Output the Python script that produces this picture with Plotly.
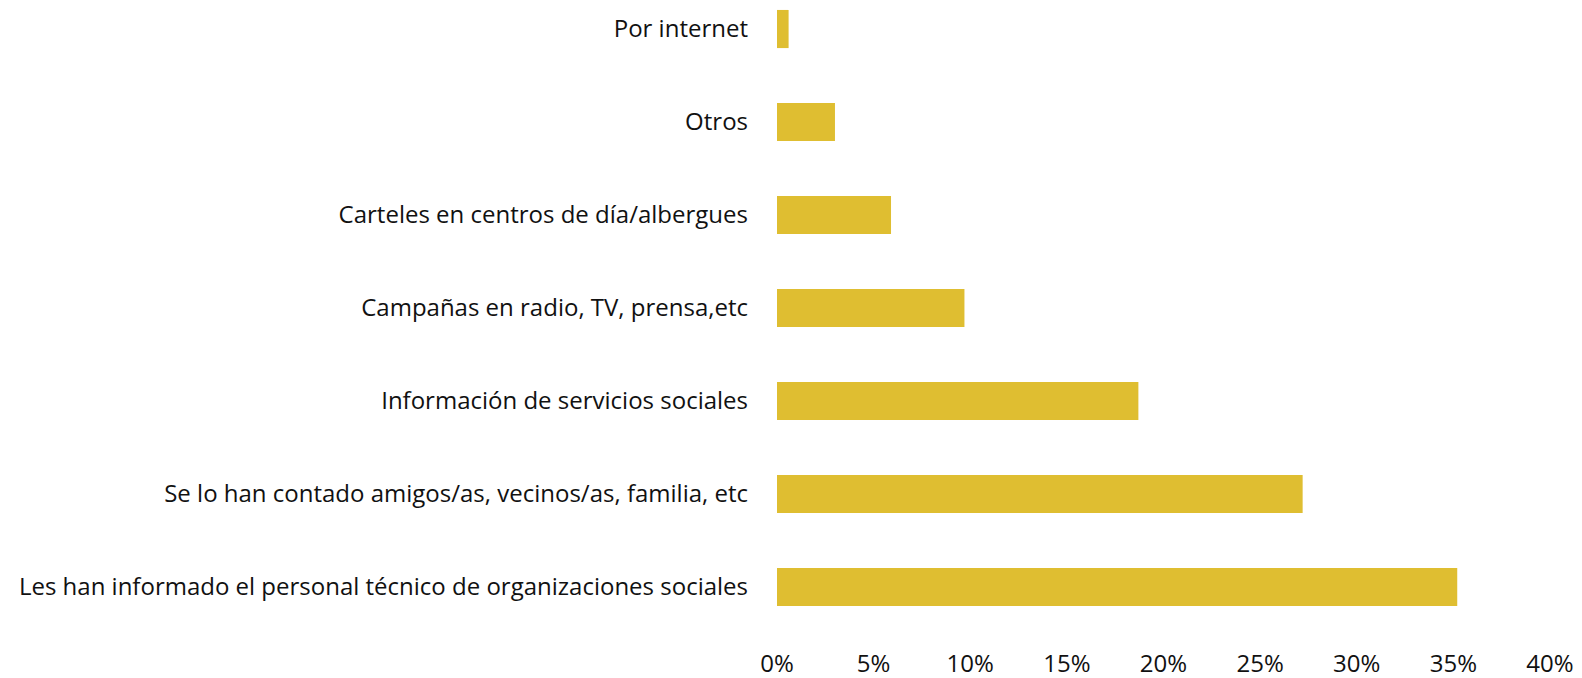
import plotly.graph_objects as go

# categories listed bottom to top
categories = [
    "Les han informado el personal técnico de organizaciones sociales",
    "Se lo han contado amigos/as, vecinos/as, familia, etc",
    "Información de servicios sociales",
    "Campañas en radio, TV, prensa,etc",
    "Carteles en centros de día/albergues",
    "Otros",
    "Por internet",
]
shares = [0.352, 0.272, 0.187, 0.097, 0.059, 0.030, 0.006]
tick_values = [0, 0.05, 0.10, 0.15, 0.20, 0.25, 0.30, 0.35, 0.40]

fig = go.Figure(
    go.Bar(
        x=shares,
        y=categories,
        orientation="h",
        marker=dict(color="#DFBE31", line=dict(width=0)),
        hovertemplate="%{y}: %{x:.1%}<extra></extra>",
    )
)

fig.update_layout(
    width=1582,
    height=678,
    margin=dict(l=777, r=32, t=8, b=31),
    paper_bgcolor="white",
    plot_bgcolor="white",
    bargap=0.59,
    showlegend=False,
    font=dict(family="Open Sans", size=24, color="#111111"),
)
fig.update_xaxes(
    range=[0, 0.40],
    tickvals=tick_values,
    tickformat=".0%",
    showgrid=False,
    zeroline=False,
    showline=False,
    ticks="",
    ticklabelstandoff=0,
    automargin=False,
)
fig.update_yaxes(
    range=[-0.645, 6.226],
    showgrid=False,
    zeroline=False,
    showline=False,
    ticks="",
    ticklabelstandoff=28,
    automargin=False,
)

# drop the default page margin so the figure fills the window exactly
fig.write_html(
    "out.html",
    config={"displayModeBar": False},
    post_script="document.body.style.margin = '0';",
)
